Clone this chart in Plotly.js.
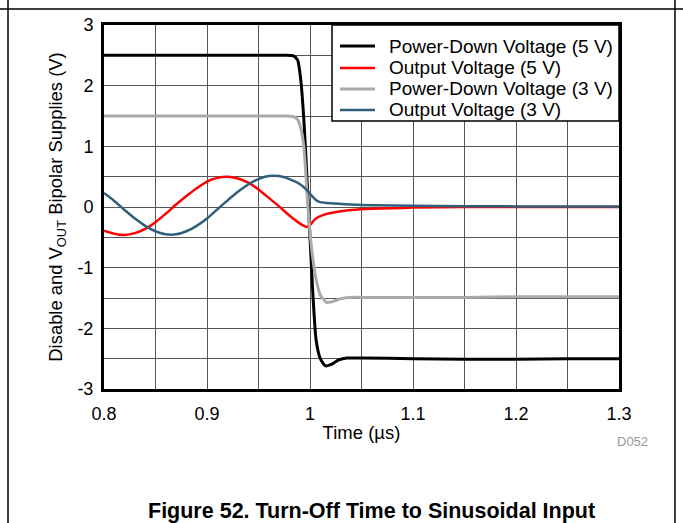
<!DOCTYPE html>
<html>
<head>
<meta charset="utf-8">
<script src="https://cdn.plot.ly/plotly-3.0.1.min.js"></script>
<style>html,body{margin:0;padding:0;background:#fff;}#chart{width:683px;height:523px;}</style>
</head>
<body>
<div id="chart"></div>
<script>
// Time (µs)
const tPD = [0.80, 0.85, 0.90, 0.95, 0.975, 0.984, 0.988, 0.991, 0.994, 0.997, 1.000, 1.003, 1.006, 1.010, 1.015, 1.020, 1.028, 1.036, 1.05, 1.10, 1.15, 1.20, 1.25, 1.30];
const pd5 = [2.50, 2.50, 2.50, 2.50, 2.50, 2.49, 2.42, 2.10, 1.45, 0.50, -0.50, -1.50, -2.20, -2.50, -2.62, -2.60, -2.52, -2.49, -2.49, -2.50, -2.51, -2.51, -2.50, -2.50];
const tPD3 = [0.80, 0.85, 0.90, 0.95, 0.975, 0.984, 0.988, 0.991, 0.994, 0.998, 1.002, 1.006, 1.010, 1.016, 1.022, 1.030, 1.038, 1.05, 1.10, 1.15, 1.20, 1.25, 1.30];
const pd3 = [1.50, 1.50, 1.50, 1.50, 1.50, 1.49, 1.44, 1.30, 1.00, 0.00, -0.75, -1.20, -1.45, -1.57, -1.56, -1.51, -1.49, -1.49, -1.49, -1.49, -1.48, -1.48, -1.48];
const tOut5 = [0.80, 0.81, 0.82, 0.83, 0.84, 0.85, 0.86, 0.87, 0.88, 0.89, 0.90, 0.91, 0.92, 0.93, 0.94, 0.95, 0.96, 0.97, 0.98, 0.99, 0.997, 1.001, 1.005, 1.010, 1.020, 1.030, 1.040, 1.060, 1.080, 1.10, 1.15, 1.20, 1.30];
const out5 = [-0.39, -0.44, -0.46, -0.43, -0.36, -0.25, -0.11, 0.04, 0.18, 0.31, 0.42, 0.48, 0.50, 0.47, 0.40, 0.29, 0.15, 0.01, -0.14, -0.27, -0.33, -0.28, -0.20, -0.15, -0.10, -0.07, -0.05, -0.03, -0.02, -0.01, 0.00, 0.00, 0.00];
const tOut3 = [0.80, 0.81, 0.82, 0.83, 0.84, 0.85, 0.86, 0.87, 0.88, 0.89, 0.90, 0.91, 0.92, 0.93, 0.94, 0.95, 0.96, 0.97, 0.98, 0.99, 0.997, 1.002, 1.006, 1.010, 1.020, 1.040, 1.060, 1.10, 1.20, 1.30];
const out3 = [0.23, 0.10, -0.05, -0.19, -0.31, -0.40, -0.45, -0.45, -0.40, -0.31, -0.19, -0.04, 0.11, 0.25, 0.37, 0.46, 0.51, 0.51, 0.46, 0.38, 0.28, 0.18, 0.11, 0.08, 0.06, 0.04, 0.03, 0.02, 0.01, 0.01];

const names = ['Power-Down Voltage (5 V)', 'Output Voltage (5 V)', 'Power-Down Voltage (3 V)', 'Output Voltage (3 V)'];
const colors = ['#000000', '#ff0000', '#aaaaaa', '#2f5f7a'];
const widths = [3, 2.5, 3, 2.5];
const xTicks = [0.8, 0.9, 1, 1.1, 1.2, 1.3];
const xTickText = ['0.8', '0.9', '1', '1.1', '1.2', '1.3'];
const yTicks = [-3, -2, -1, 0, 1, 2, 3];
const yTickText = ['-3', '-2', '-1', '0', '1', '2', '3'];

const series = [[tPD, pd5], [tOut5, out5], [tPD3, pd3], [tOut3, out3]];
const traces = series.map((s, i) => ({x: s[0], y: s[1], name: names[i], mode: 'lines', showlegend: false,
  line: {color: colors[i], width: widths[i], shape: 'spline', smoothing: 0.6}}));

const fam = 'Liberation Sans, Arial, sans-serif';
const f = (s, extra) => Object.assign({family: fam, size: s, color: '#000'}, extra || {});

// Legend drawn in paper coordinates (box, samples, labels)
const legRowY = [0.9423, 0.8819, 0.8242, 0.7665];
const shapes = [
  {type: 'line', xref: 'paper', yref: 'paper', x0: -0.1864, x1: -0.1864, y0: 1.1, y1: -0.5, line: {color: '#000', width: 1.5}},
  {type: 'line', xref: 'paper', yref: 'paper', x0: 1.1087, x1: 1.1087, y0: 1.1, y1: -0.5, line: {color: '#000', width: 1.5}},
  {type: 'line', xref: 'paper', yref: 'paper', x0: -0.3, x1: 1.2, y0: 1.044, y1: 1.044, line: {color: '#000', width: 1.5}},
  {type: 'rect', xref: 'paper', yref: 'paper', x0: 0.4427, x1: 1.0, y0: 0.7363, y1: 1.0, fillcolor: '#fff', line: {color: '#000', width: 1.5}}
];
const annotations = [
  {text: 'D052', xref: 'paper', yref: 'paper', x: 0.992, y: -0.143, xanchor: 'left', yanchor: 'middle', showarrow: false,
   font: {family: fam, size: 13, color: '#999'}},
  {text: '<b>Figure 52. Turn-Off Time to Sinusoidal Input</b>', xref: 'paper', yref: 'paper', x: 0.52, y: -0.335,
   xanchor: 'center', yanchor: 'middle', showarrow: false, font: f(21.5)}
];
names.forEach((n, i) => {
  shapes.push({type: 'line', xref: 'paper', yref: 'paper', x0: 0.4583, x1: 0.5262, y0: legRowY[i], y1: legRowY[i],
               line: {color: colors[i], width: widths[i]}});
  annotations.push({text: n, xref: 'paper', yref: 'paper', x: 0.5515, y: legRowY[i], xanchor: 'left', yanchor: 'middle',
                    showarrow: false, font: f(19), borderpad: 0});
});

const layout = {
  width: 683, height: 523,
  margin: {l: 104, r: 64, t: 25, b: 134},
  paper_bgcolor: '#fff', plot_bgcolor: '#fff',
  font: f(18),
  showlegend: false,
  xaxis: {range: [0.8, 1.3], tickvals: xTicks, ticktext: xTickText, showline: true, linecolor: '#000', linewidth: 3, mirror: true,
          showgrid: true, gridcolor: '#555', gridwidth: 1, zeroline: false, ticks: '', tickfont: f(18), ticklabelstandoff: 6,
          minor: {dtick: 0.05, tick0: 0.8, showgrid: true, gridcolor: '#555', gridwidth: 1},
          title: {text: 'Time (µs)', font: f(18.5), standoff: 4}},
  yaxis: {range: [-3, 3], tickvals: yTicks, ticktext: yTickText, showline: true, linecolor: '#000', linewidth: 3, mirror: true,
          showgrid: true, gridcolor: '#555', gridwidth: 1, zeroline: false, ticks: '', tickfont: f(18), ticklabelstandoff: 4,
          minor: {dtick: 0.5, tick0: 0, showgrid: true, gridcolor: '#555', gridwidth: 1},
          title: {text: 'Disable and V<sub>OUT</sub> Bipolar Supplies (V)', font: f(18.4), standoff: 10}},
  annotations: annotations,
  shapes: shapes
};
Plotly.newPlot('chart', traces, layout, {displayModeBar: false, staticPlot: true});
</script>
</body>
</html>
